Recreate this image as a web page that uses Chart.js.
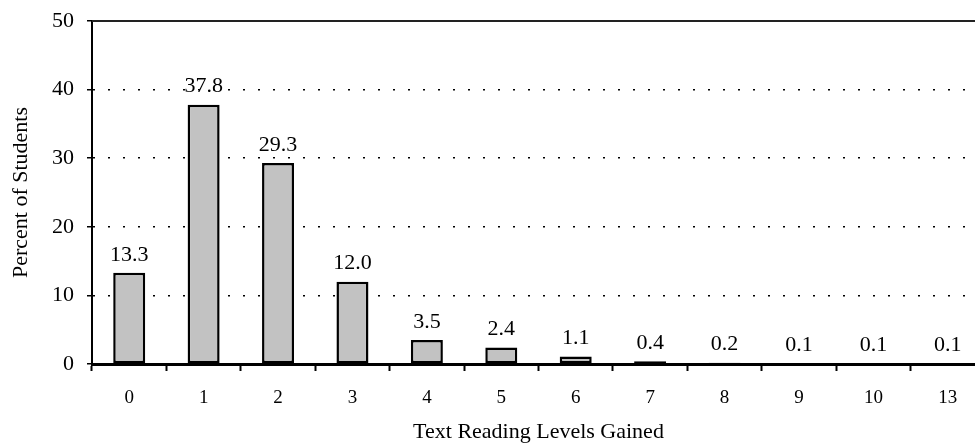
<!DOCTYPE html>
<html>
<head>
<meta charset="utf-8">
<script src="https://cdn.jsdelivr.net/npm/chart.js@4"></script>
<style>
  html, body { margin: 0; padding: 0; background: #fff; overflow: hidden; }
  #wrap { width: 990px; height: 445px; }
</style>
</head>
<body>
<div id="wrap"><canvas id="levelsChart" width="990" height="445"></canvas></div>
<script>
// Níveis de leitura ganhos (categorias do eixo x)
const levels = ['0', '1', '2', '3', '4', '5', '6', '7', '8', '9', '10', '13'];
// Percentual de alunos em cada nível
const percentStudents = [13.3, 37.8, 29.3, 12.0, 3.5, 2.4, 1.1, 0.4, 0.2, 0.1, 0.1, 0.1];
// Marcas do eixo y
const yTicks = [0, 10, 20, 30, 40, 50];

const serif = "'Liberation Serif', 'DejaVu Serif', serif";

// Plugin: rótulos de valor acima das barras e linha superior da área do gráfico
const barLabels = {
    id: 'barLabels',
    afterDatasetsDraw(chart) {
        const ctx = chart.ctx;
        const area = chart.chartArea;
        ctx.save();
        ctx.strokeStyle = '#222';
        ctx.lineWidth = 2;
        ctx.beginPath();
        ctx.moveTo(area.left, area.top);
        ctx.lineTo(area.right, area.top);
        ctx.stroke();

        ctx.fillStyle = '#000';
        ctx.font = '22px ' + serif;
        ctx.textAlign = 'center';
        ctx.textBaseline = 'bottom';
        chart.getDatasetMeta(0).data.forEach((bar, i) => {
            ctx.fillText(percentStudents[i].toFixed(1), bar.x, bar.y - 7);
        });
        ctx.restore();
    }
};

const chartCtx = document.getElementById('levelsChart').getContext('2d');
const levelsChart = new Chart(chartCtx, {
    type: 'bar',
    data: {
        labels: levels,
        datasets: [{
            data: percentStudents,
            backgroundColor: '#c2c2c2',
            borderColor: '#000',
            borderWidth: 2.5,
            borderSkipped: false,
            barPercentage: 0.43,
            categoryPercentage: 1
        }]
    },
    options: {
        responsive: false,
        animation: false,
        layout: { padding: { left: 8, right: 5, top: 21, bottom: 0 } },
        plugins: {
            legend: { display: false },
            tooltip: { enabled: false }
        },
        scales: {
            x: {
                grid: {
                    offset: true,
                    drawOnChartArea: false,
                    drawTicks: true,
                    tickLength: 7,
                    tickColor: '#000',
                    tickWidth: 2
                },
                border: { display: true, color: '#000', width: 3 },
                ticks: {
                    color: '#000',
                    font: { family: serif, size: 19 },
                    padding: 16
                },
                title: {
                    display: true,
                    text: 'Text Reading Levels Gained',
                    color: '#000',
                    font: { family: serif, size: 22 },
                    padding: { top: 4, bottom: 0 }
                },
                afterFit(scale) { scale.height = 81; }
            },
            y: {
                min: 0,
                max: 50,
                afterBuildTicks(scale) { scale.ticks = yTicks.map(v => ({ value: v })); },
                grid: {
                    color: c => (c.tick && (c.tick.value === 0 || c.tick.value === 50)) ? 'rgba(0,0,0,0)' : '#000',
                    lineWidth: 1.5,
                    drawTicks: true,
                    tickLength: 5,
                    tickColor: '#000',
                    tickWidth: 1.5,
                    tickBorderDash: []
                },
                border: { display: true, color: '#000', width: 2, dash: [2, 13] },
                ticks: {
                    color: '#000',
                    font: { family: serif, size: 22 },
                    padding: 13
                },
                title: {
                    display: true,
                    text: 'Percent of Students',
                    color: '#000',
                    font: { family: serif, size: 22 },
                    padding: { top: 0, bottom: 0 }
                },
                afterFit(scale) {
                    scale.width = 84;
                    scale.paddingTop = 0;
                    scale.paddingBottom = 0;
                }
            }
        }
    },
    plugins: [barLabels]
});
</script>
</body>
</html>
